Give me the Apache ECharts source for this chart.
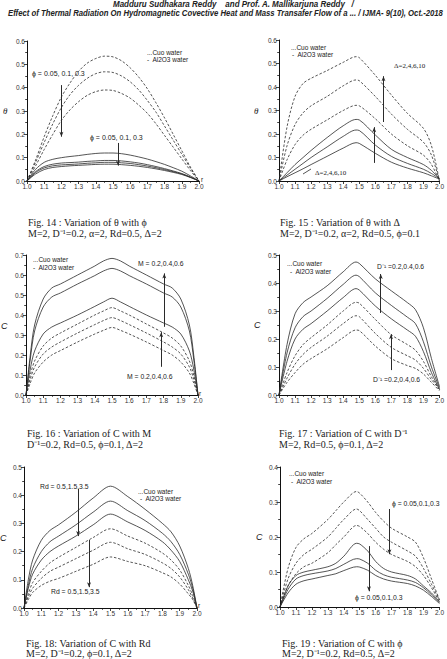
<!DOCTYPE html>
<html><head><meta charset="utf-8">
<script src="https://cdn.jsdelivr.net/npm/echarts@6/dist/echarts.min.js"></script>
<style>html,body{margin:0;padding:0;background:#fff}#c{width:447px;height:659px}</style>
</head><body><div id="c"></div>
<script>
// ---------- Fig 14 : theta vs r, phi ----------
const xs14 = [1.0,1.05,1.1,1.15,1.2,1.25,1.3,1.35,1.4,1.45,1.5,1.55,1.6,1.65,1.7,1.75,1.8,1.85,1.9,1.95,2.0];
const fig14Dashed1 = [0,0.09,0.19,0.28,0.36,0.42,0.47,0.505,0.525,0.535,0.532,0.515,0.485,0.445,0.395,0.335,0.27,0.2,0.13,0.06,0];
const fig14Dashed2 = [0,0.08,0.165,0.245,0.315,0.37,0.41,0.44,0.46,0.468,0.465,0.45,0.425,0.39,0.345,0.295,0.235,0.175,0.115,0.055,0];
const fig14Dashed3 = [0,0.065,0.135,0.2,0.26,0.305,0.34,0.367,0.383,0.39,0.388,0.375,0.355,0.325,0.29,0.245,0.195,0.145,0.095,0.045,0];
const fig14Solid1 = [0,0.05,0.08,0.093,0.1,0.105,0.109,0.114,0.118,0.12,0.12,0.117,0.111,0.103,0.094,0.083,0.071,0.057,0.042,0.022,0];
const fig14Solid2 = [0,0.04,0.062,0.072,0.077,0.079,0.081,0.084,0.086,0.088,0.088,0.086,0.082,0.077,0.07,0.062,0.053,0.043,0.032,0.017,0];
const fig14Solid3 = [0,0.036,0.056,0.065,0.069,0.071,0.073,0.076,0.078,0.08,0.08,0.078,0.075,0.07,0.064,0.057,0.049,0.04,0.03,0.016,0];
const fig14Solid4 = [0,0.03,0.049,0.058,0.062,0.065,0.067,0.069,0.071,0.072,0.072,0.07,0.067,0.063,0.058,0.052,0.045,0.037,0.028,0.015,0];

// ---------- Fig 15 : theta vs r, Delta ----------
const xs15 = [1.0,1.05,1.1,1.15,1.2,1.3,1.4,1.48,1.5,1.6,1.7,1.8,1.9,1.95,2.0];
const fig15Dashed1 = [0,0.23,0.36,0.415,0.437,0.47,0.505,0.529,0.525,0.45,0.366,0.288,0.224,0.15,0];
const fig15Dashed2 = [0,0.15,0.24,0.29,0.32,0.36,0.405,0.43,0.427,0.36,0.285,0.22,0.165,0.11,0];
const fig15Dashed3 = [0,0.09,0.155,0.195,0.22,0.26,0.3,0.322,0.32,0.265,0.2,0.15,0.11,0.07,0];
const fig15Solid1 = [0,0.035,0.07,0.1,0.13,0.185,0.235,0.262,0.26,0.196,0.135,0.1,0.07,0.045,0.01];
const fig15Solid2 = [0,0.025,0.05,0.075,0.1,0.145,0.19,0.217,0.215,0.153,0.105,0.075,0.05,0.032,0.01];
const fig15Solid3 = [0,0.018,0.035,0.052,0.07,0.105,0.14,0.163,0.16,0.118,0.08,0.055,0.035,0.022,0.008];

// ---------- Fig 16 : C vs r, M ----------
const xs16 = [1.0,1.025,1.05,1.1,1.15,1.2,1.3,1.4,1.45,1.5,1.55,1.6,1.7,1.8,1.85,1.9,1.95,1.975,2.0];
const fig16Solid1 = [0,0.2,0.35,0.48,0.535,0.555,0.6,0.645,0.67,0.683,0.67,0.645,0.6,0.555,0.535,0.48,0.35,0.2,0];
const fig16Solid2 = [0,0.18,0.32,0.44,0.49,0.51,0.555,0.597,0.62,0.633,0.62,0.597,0.555,0.51,0.49,0.44,0.32,0.18,0];
const fig16Solid3 = [0,0.13,0.22,0.305,0.34,0.36,0.4,0.443,0.465,0.484,0.465,0.443,0.4,0.36,0.34,0.305,0.22,0.13,0];
const fig16Dashed1 = [0,0.1,0.17,0.245,0.285,0.31,0.355,0.4,0.42,0.437,0.42,0.4,0.355,0.31,0.285,0.245,0.17,0.1,0];
const fig16Dashed2 = [0,0.08,0.14,0.205,0.24,0.265,0.31,0.352,0.372,0.387,0.372,0.352,0.31,0.265,0.24,0.205,0.14,0.08,0];
const fig16Dashed3 = [0,0.06,0.11,0.165,0.2,0.222,0.265,0.305,0.323,0.338,0.323,0.305,0.265,0.222,0.2,0.165,0.11,0.06,0];

// ---------- Fig 17 : C vs r, D^-1 ----------
const xs17 = [1.0,1.05,1.1,1.15,1.2,1.3,1.4,1.48,1.5,1.6,1.7,1.8,1.85,1.9,1.95,2.0];
const fig17Solid1 = [0,0.18,0.29,0.33,0.35,0.39,0.44,0.475,0.47,0.415,0.372,0.33,0.305,0.24,0.13,0.03];
const fig17Solid2 = [0,0.15,0.24,0.28,0.3,0.345,0.395,0.428,0.423,0.365,0.32,0.278,0.255,0.19,0.1,0.025];
const fig17Solid3 = [0,0.12,0.2,0.235,0.255,0.3,0.348,0.38,0.375,0.318,0.272,0.232,0.21,0.155,0.08,0.02];
const fig17Dashed1 = [0,0.08,0.14,0.18,0.205,0.25,0.3,0.331,0.328,0.27,0.215,0.18,0.16,0.12,0.065,0.02];
const fig17Dashed2 = [0,0.06,0.11,0.145,0.17,0.21,0.255,0.283,0.28,0.22,0.17,0.14,0.125,0.095,0.055,0.02];
const fig17Dashed3 = [0,0.045,0.08,0.11,0.13,0.165,0.205,0.232,0.23,0.175,0.13,0.105,0.095,0.075,0.045,0.015];

// ---------- Fig 18 : C vs r, Rd ----------
const xs18 = [1.0,1.025,1.05,1.1,1.15,1.2,1.3,1.4,1.5,1.6,1.7,1.8,1.85,1.9,1.95,1.975,2.0];
const fig18Solid1 = [0,0.1,0.17,0.24,0.275,0.295,0.34,0.39,0.432,0.395,0.35,0.3,0.27,0.22,0.14,0.08,0];
const fig18Solid2 = [0,0.08,0.14,0.2,0.235,0.255,0.295,0.34,0.379,0.345,0.31,0.265,0.235,0.19,0.12,0.07,0];
const fig18Solid3 = [0,0.07,0.12,0.17,0.2,0.22,0.255,0.295,0.333,0.305,0.275,0.235,0.205,0.165,0.1,0.06,0];
const fig18Dashed1 = [0,0.05,0.09,0.13,0.16,0.18,0.215,0.25,0.281,0.255,0.23,0.195,0.17,0.135,0.08,0.045,0];
const fig18Dashed2 = [0,0.04,0.07,0.105,0.13,0.145,0.175,0.205,0.233,0.21,0.19,0.16,0.14,0.11,0.065,0.035,0];
const fig18Dashed3 = [0,0.03,0.055,0.08,0.095,0.105,0.13,0.155,0.181,0.165,0.15,0.125,0.11,0.085,0.05,0.03,0];

// ---------- Fig 19 : C vs r, phi ----------
const xs19 = [1.0,1.05,1.1,1.15,1.2,1.3,1.35,1.4,1.48,1.5,1.55,1.6,1.65,1.7,1.8,1.85,1.9,1.95,2.0];
const fig19Dashed1 = [0,0.11,0.17,0.195,0.21,0.25,0.275,0.3,0.33,0.325,0.3,0.27,0.245,0.225,0.2,0.185,0.14,0.08,0.02];
const fig19Dashed2 = [0,0.08,0.125,0.15,0.165,0.2,0.225,0.25,0.28,0.275,0.25,0.225,0.2,0.185,0.16,0.145,0.11,0.065,0.02];
const fig19Dashed3 = [0,0.06,0.095,0.115,0.125,0.155,0.178,0.2,0.233,0.23,0.21,0.185,0.165,0.15,0.13,0.115,0.09,0.055,0.015];
const fig19Solid1 = [0,0.06,0.09,0.1,0.105,0.115,0.125,0.145,0.182,0.18,0.16,0.13,0.11,0.1,0.09,0.08,0.06,0.04,0.015];
const fig19Solid2 = [0,0.05,0.08,0.09,0.095,0.103,0.11,0.122,0.138,0.137,0.125,0.105,0.092,0.085,0.077,0.07,0.055,0.035,0.012];
const fig19Solid3 = [0,0.04,0.065,0.075,0.08,0.09,0.095,0.104,0.115,0.114,0.105,0.09,0.08,0.074,0.067,0.06,0.048,0.03,0.01];

// axis ranges / ticks
const xRange = {min: 1.0, max: 2.0, interval: 0.1};
const yMaxes = [0.6, 0.6, 0.7, 0.5, 0.5, 0.4];
const yInterval = 0.1;

// captions & texts
const captions = [
  ["Fig. 14 : Variation of θ with ϕ", "M=2, D⁻¹=0.2, α=2, Rd=0.5, Δ=2"],
  ["Fig. 15 : Variation of θ with Δ", "M=2, D⁻¹=0.2, α=2, Rd=0.5, ϕ=0.1"],
  ["Fig. 16 : Variation of C with M", "D⁻¹=0.2, Rd=0.5, ϕ=0.1, Δ=2"],
  ["Fig. 17 : Variation of C with D⁻¹", "M=2, Rd=0.5, ϕ=0.1, Δ=2"],
  ["Fig. 18: Variation of C with Rd", "M=2, D⁻¹=0.2, ϕ=0.1, Δ=2"],
  ["Fig. 19 : Variation of C with ϕ", "M=2, D⁻¹=0.2, Rd=0.5, Δ=2"]
];
const legendCuo = "...Cuo water";
const legendAl = "-  Al2O3 water";
const header1 = "Madduru Sudhakara Reddy    and Prof. A. Mallikarjuna Reddy   /";
const header2 = "Effect of Thermal Radiation On Hydromagnetic Covective Heat and Mass Transafer Flow of a ... / IJMA- 9(10), Oct.-2018";

// layout
const grids = [
  {left:27, right:248, top:41, bottom:478},
  {left:279, right:-4, top:40, bottom:478},
  {left:26, right:249, top:255, bottom:264},
  {left:279, right:-4, top:255, bottom:264},
  {left:24, right:250, top:467, bottom:51},
  {left:280, right:-5, top:467, bottom:52}
];

const INK = '#2a2a2a';
function lineSeries(g, xs, ys, dashed, extra) {
  const s = {
    type: 'line', xAxisIndex: g, yAxisIndex: g, showSymbol: false, smooth: 0.3,
    data: xs.map((x, i) => [x, ys[i]]),
    lineStyle: {color: INK, width: 0.8, type: dashed ? [2.5, 1.8] : 'solid'},
    silent: true
  };
  return Object.assign(s, extra || {});
}
function arrows(list) {
  return {markLine: {silent: true, symbol: ['none', 'arrow'], symbolSize: [3, 5],
    lineStyle: {color: INK, width: 1, type: 'solid'}, label: {show: false},
    data: list.map(a => [{coord: a[0]}, {coord: a[1]}])}};
}

const series = [
  lineSeries(0, xs14, fig14Dashed1, true, arrows([[[1.2,0.411],[1.2,0.19]], [[1.529,0.163],[1.529,0.066]]])),
  lineSeries(0, xs14, fig14Dashed2, true),
  lineSeries(0, xs14, fig14Dashed3, true),
  lineSeries(0, xs14, fig14Solid1, false),
  lineSeries(0, xs14, fig14Solid2, false),
  lineSeries(0, xs14, fig14Solid3, false),
  lineSeries(0, xs14, fig14Solid4, false),

  lineSeries(1, xs15, fig15Dashed1, true, arrows([[[1.651,0.251],[1.651,0.446]], [[1.593,0.077],[1.593,0.229]]])),
  lineSeries(1, xs15, fig15Dashed2, true),
  lineSeries(1, xs15, fig15Dashed3, true),
  lineSeries(1, xs15, fig15Solid1, false),
  lineSeries(1, xs15, fig15Solid2, false),
  lineSeries(1, xs15, fig15Solid3, false),

  lineSeries(2, xs16, fig16Solid1, false, arrows([[[1.804,0.341],[1.804,0.608]], [[1.786,0.141],[1.786,0.314]]])),
  lineSeries(2, xs16, fig16Solid2, false),
  lineSeries(2, xs16, fig16Solid3, false),
  lineSeries(2, xs16, fig16Dashed1, true),
  lineSeries(2, xs16, fig16Dashed2, true),
  lineSeries(2, xs16, fig16Dashed3, true),

  lineSeries(3, xs17, fig17Solid1, false, arrows([[[1.634,0.293],[1.634,0.432]], [[1.698,0.089],[1.698,0.217]]])),
  lineSeries(3, xs17, fig17Solid2, false),
  lineSeries(3, xs17, fig17Solid3, false),
  lineSeries(3, xs17, fig17Dashed1, true),
  lineSeries(3, xs17, fig17Dashed2, true),
  lineSeries(3, xs17, fig17Dashed3, true),

  lineSeries(4, xs18, fig18Solid1, false, arrows([[[1.313,0.422],[1.313,0.255]], [[1.376,0.241],[1.376,0.074]]])),
  lineSeries(4, xs18, fig18Solid2, false),
  lineSeries(4, xs18, fig18Solid3, false),
  lineSeries(4, xs18, fig18Dashed1, true),
  lineSeries(4, xs18, fig18Dashed2, true),
  lineSeries(4, xs18, fig18Dashed3, true),

  lineSeries(5, xs19, fig19Dashed1, true, arrows([[[1.686,0.28],[1.686,0.151]], [[1.558,0.174],[1.558,0.045]]])),
  lineSeries(5, xs19, fig19Dashed2, true),
  lineSeries(5, xs19, fig19Dashed3, true),
  lineSeries(5, xs19, fig19Solid1, false),
  lineSeries(5, xs19, fig19Solid2, false),
  lineSeries(5, xs19, fig19Solid3, false)
];

const axisCommon = {
  axisLine: {show: true, onZero: false, lineStyle: {color: '#111', width: 1}},
  axisTick: {show: true, length: 3, lineStyle: {color: '#111', width: 0.8}},
  minorTick: {show: true, splitNumber: 2, length: 1.8, lineStyle: {color: '#111', width: 0.8}},
  splitLine: {show: false},
  axisLabel: {fontSize: 6.5, color: '#333', fontFamily: '"Liberation Sans", Arial, sans-serif',
    margin: 2, formatter: v => Number(v).toFixed(1)}
};
function axis(i, extra) {
  return Object.assign({type: 'value', gridIndex: i}, extra, {
    axisLine: axisCommon.axisLine, axisTick: axisCommon.axisTick, minorTick: axisCommon.minorTick,
    splitLine: axisCommon.splitLine, axisLabel: axisCommon.axisLabel});
}
const xAxes = grids.map((g, i) => axis(i, {min: xRange.min, max: xRange.max, interval: xRange.interval}));
const yAxes = grids.map((g, i) => axis(i, {min: 0, max: yMaxes[i], interval: yInterval}));

const SANS = '"Liberation Sans", Arial, sans-serif';
const SERIF = '"Liberation Serif", "Times New Roman", serif';
function T(text, x, y, font, extra) {
  return {type: 'text', silent: true, style: Object.assign({text: text, x: x, y: y, font: font, fill: '#222', align: 'left', verticalAlign: 'middle'}, extra || {})};
}
function H(text, x, y, font, sx) {
  return {type: 'text', silent: true, x: x, y: y, scaleX: sx, scaleY: 1,
    style: {text: text, x: 0, y: 0, font: font, fill: '#222', align: 'left', verticalAlign: 'middle'}};
}
const graphic = [
  H(header1, 113, 4, 'italic bold 8.6px ' + SANS, 0.93),
  H(header2, 8, 13, 'italic bold 8.6px ' + SANS, 0.9),
  // captions
  T(captions[0][0], 28, 222, '10px ' + SERIF), T(captions[0][1], 28, 233, '10px ' + SERIF),
  T(captions[1][0], 280, 222, '10px ' + SERIF), T(captions[1][1], 280, 233, '10px ' + SERIF),
  T(captions[2][0], 27, 433, '10px ' + SERIF), T(captions[2][1], 27, 444, '10px ' + SERIF),
  T(captions[3][0], 279, 433, '10px ' + SERIF), T(captions[3][1], 279, 444, '10px ' + SERIF),
  T(captions[4][0], 26, 643.5, '10px ' + SERIF), T(captions[4][1], 26, 653, '10px ' + SERIF),
  T(captions[5][0], 282, 643, '10px ' + SERIF), T(captions[5][1], 282, 653, '10px ' + SERIF),
  // legends
  T(legendCuo, 147, 52, '6.5px ' + SANS), T(legendAl, 147, 59.5, '6.5px ' + SANS),
  T(legendCuo, 291, 47, '6.5px ' + SANS), T(legendAl, 292, 54.5, '6.5px ' + SANS),
  T(legendCuo, 33, 259, '6.5px ' + SANS), T(legendAl, 33, 267, '6.5px ' + SANS),
  T(legendCuo, 287, 263, '6.5px ' + SANS), T(legendAl, 290, 271, '6.5px ' + SANS),
  T(legendCuo, 138, 491, '6.5px ' + SANS), T(legendAl, 140, 498.5, '6.5px ' + SANS),
  T(legendCuo, 289, 473, '6.5px ' + SANS), T(legendAl, 291, 481, '6.5px ' + SANS),
  // axis names
  T('θ', 3, 111, 'italic 9px ' + SERIF), T('θ', 254, 111, 'italic 9px ' + SERIF),
  T('C', 1, 326, 'italic 9px ' + SANS), T('C', 254, 325, 'italic 9px ' + SANS),
  T('C', 0, 538, 'italic 9px ' + SANS), T('C', 256, 537, 'italic 9px ' + SANS),
  T('r', 201, 179, '6.5px ' + SANS), T('r', 199, 393, '6.5px ' + SANS), T('r', 198, 605, '6.5px ' + SANS),
  // annotations
  T('ϕ = 0.05, 0.1, 0.3', 32, 73, '7px ' + SANS), T('ϕ = 0.05, 0.1, 0.3', 90, 137, '7px ' + SANS),
  T('Δ=2,4,6,10', 394, 66, '7px ' + SERIF), T('Δ=2,4,6,10', 315, 173, '7px ' + SERIF),
  {type: 'line', silent: true, shape: {x1: 303, y1: 174, x2: 311, y2: 169}, style: {stroke: INK, lineWidth: 0.8}},
  T('M = 0.2,0.4,0.6', 138, 263, '6.8px ' + SANS), T('M = 0.2,0.4,0.6', 127, 376, '6.8px ' + SANS),
  T('D⁻¹ =0.2,0.4,0.6', 377, 266, '6.8px ' + SANS), T('D⁻¹ =0.2,0.4,0.6', 373, 379, '6.8px ' + SANS),
  T('Rd = 0.5,1.5,3.5', 40, 486, '6.8px ' + SANS), T('Rd = 0.5,1.5,3.5', 51, 591, '6.8px ' + SANS),
  T('ϕ = 0.05,0.1,0.3', 392, 503, '6.8px ' + SANS), T('ϕ = 0.05,0.1,0.3', 355, 597, '6.8px ' + SANS)
];

const chart = echarts.init(document.getElementById('c'), null, {renderer: 'svg'});
chart.setOption({
  animation: false,
  backgroundColor: '#fff',
  grid: grids,
  xAxis: xAxes,
  yAxis: yAxes,
  series: series,
  graphic: graphic
});
</script>
</body></html>
